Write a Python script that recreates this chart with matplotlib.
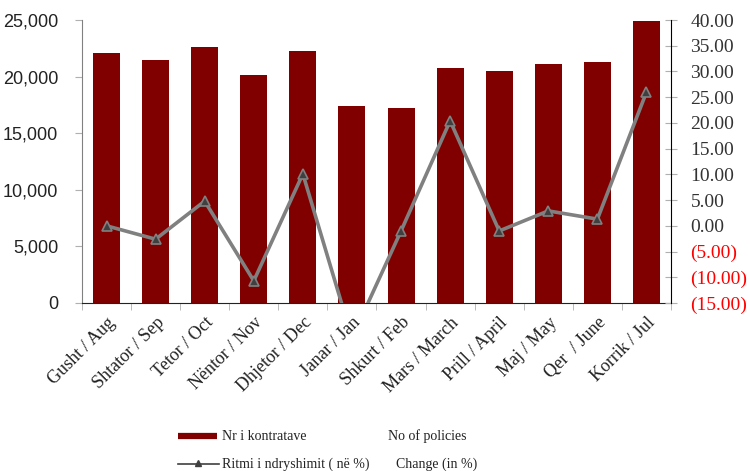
import numpy as np
import matplotlib.pyplot as plt
from matplotlib.lines import Line2D
from matplotlib.ticker import FuncFormatter

months = ["Gusht / Aug", "Shtator / Sep", "Tetor / Oct", "Nëntor / Nov",
          "Dhjetor / Dec", "Janar / Jan", "Shkurt / Feb", "Mars / March",
          "Prill / April", "Maj / May", "Qer  / June", "Korrik / Jul"]
policies = [22090, 21470, 22620, 20140, 22260, 17400, 17230, 20760,
            20500, 21110, 21290, 24950]
change = [0.0, -2.6, 4.8, -10.7, 10.1, -21.8, -1.0, 20.4, -1.0, 2.9, 1.3, 26.0]

fig = plt.figure(figsize=(7.5, 4.71), dpi=100)
ax = fig.add_axes([0.1093, 0.3567, 0.7854, 0.6008])
x = np.arange(len(months))

ax.bar(x, policies, width=0.55, color="#800000", zorder=2)
ax.set_xlim(-0.5, len(months) - 0.5)
ax.set_ylim(0, 25000)
ax.set_yticks(np.arange(0, 25001, 5000))
ax.yaxis.set_major_formatter(FuncFormatter(lambda v, p: f"{int(v):,}"))
ax.tick_params(axis="y", direction="out", length=5, color="#b0b0b0",
               labelsize=13, labelcolor="#222222", pad=12)
for lab in ax.get_yticklabels():
    lab.set_fontfamily("Liberation Sans")
ax.set_xticks(x)
ax.set_xticklabels(months, rotation=45, ha="right", rotation_mode="anchor",
                   fontfamily="Liberation Serif", fontsize=13, color="#222222")
ax.set_xticks(np.arange(-0.5, len(months)), minor=True)
ax.tick_params(axis="x", which="major", length=0, pad=8)
ax.tick_params(axis="x", which="minor", length=5, color="#b0b0b0")
ax.spines["top"].set_visible(False)
ax.spines["right"].set_visible(False)
ax.spines["left"].set_color("#808080")
ax.spines["bottom"].set_color("#222222")

ax2 = ax.twinx()
ax2.plot(x, change, color="#808080", lw=2.6, marker="^", markersize=6.5,
         markerfacecolor="#404040", markeredgecolor="#808080",
         markeredgewidth=1.2, zorder=3)
ax2.set_ylim(-15, 40)
ax2.set_yticks(np.arange(-15, 41, 5))


def pct(v, p):
    return f"({abs(v):.2f})" if v < 0 else f"{v:.2f}"


ax2.yaxis.set_major_formatter(FuncFormatter(pct))
ax2.tick_params(axis="y", direction="inout", length=8, color="#b0b0b0",
                labelsize=14, pad=10)
for v, lab in zip(ax2.get_yticks(), ax2.get_yticklabels()):
    lab.set_fontfamily("Liberation Serif")
    lab.set_color("red" if v < 0 else "#333333")
for s in ["top", "left", "bottom"]:
    ax2.spines[s].set_visible(False)
ax2.spines["right"].set_color("black")

# legend drawn by hand below the axes
fig.add_artist(Line2D([0.237, 0.289], [0.074, 0.074], transform=fig.transFigure,
                      color="#800000", lw=4.5, solid_capstyle="butt"))
fig.add_artist(Line2D([0.237, 0.292], [0.014, 0.014], transform=fig.transFigure,
                      color="#404040", lw=1.2))
fig.add_artist(Line2D([0.2645], [0.016], transform=fig.transFigure,
                      color="#404040", marker="^", markersize=5, lw=0))
legend_font = dict(fontfamily="Liberation Serif", fontsize=10, color="#222222",
                   va="center")
fig.text(0.296, 0.074, "Nr i kontratave", **legend_font)
fig.text(0.517, 0.074, "No of policies", **legend_font)
fig.text(0.296, 0.014, "Ritmi i ndryshimit ( në %)", **legend_font)
fig.text(0.528, 0.014, "Change (in %)", **legend_font)

fig.savefig("out.png", dpi=100)
